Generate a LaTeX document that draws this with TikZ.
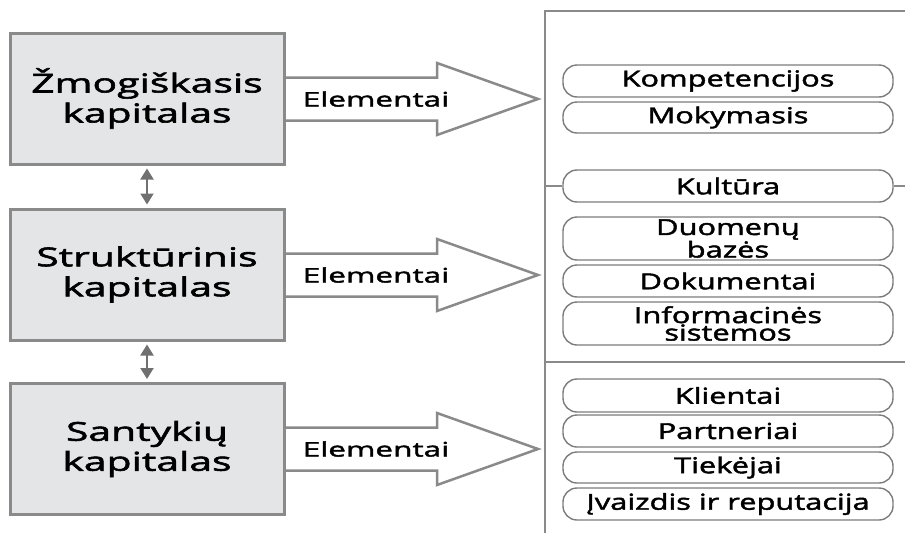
\documentclass[tikz,border=0pt]{standalone}
\usepackage{fontspec}
\setmainfont{Open Sans}
\newfontfamily\capfont{Open Sans}[FakeStretch=1.57, FakeBold=2.2]
\newfontfamily\pillfont{Open Sans}[FakeStretch=1.40, FakeBold=2.0]
\newfontfamily\lblfont{Open Sans}[FakeStretch=1.58, FakeBold=2.0]
\usetikzlibrary{arrows.meta,calc}
\definecolor{boxfill}{HTML}{E4E5E7}
\definecolor{boxline}{HTML}{8A8A8A}
\definecolor{pillline}{HTML}{7C7C7C}
\definecolor{linkgray}{HTML}{707070}
\tikzset{
  capbox/.style={draw=boxline, line width=3pt, fill=boxfill, minimum width=274pt,
    minimum height=131pt, align=center, font=\capfont\fontsize{26}{30}\selectfont, inner sep=0pt},
  pill/.style={draw=pillline, line width=1.4pt, rounded corners=14pt, fill=white,
    minimum width=330pt, align=center, inner sep=0pt, font=\pillfont\fontsize{22}{17.5}\selectfont},
  bigarrow/.style={draw=boxline, line width=2.5pt, fill=white, line join=miter},
  panel/.style={draw=boxline, line width=2.5pt},
  link/.style={linkgray, line width=2pt, {Triangle[width=13pt,length=11pt]}-{Triangle[width=13pt,length=11pt]}, shorten <=3pt, shorten >=3pt},
  lbl/.style={font=\lblfont\fontsize{20}{20}\selectfont, inner sep=0pt}
}
\begin{document}
\begin{tikzpicture}[x=1pt,y=-1pt]
\useasboundingbox (0,0) rectangle (905,533);

% panel frame on the right
\coordinate (ptop) at (545,11);
\coordinate (pbot) at (545,533);
\draw[panel] (905,11) -- (ptop) -- (pbot);
\draw[panel] (545,362) -- (905,362);

% broad arrows from each kind of capital towards the panel
\foreach \cy in {99,275,449}{
  \draw[bigarrow] (270,\cy-21.5) -- (437,\cy-21.5) -- (437,\cy-36) -- (538,\cy)
    -- (437,\cy+36) -- (437,\cy+21.5) -- (270,\cy+21.5);
  \node[lbl] at (376,\cy) {Elementai};
}

% the three kinds of capital
\node[capbox] (h) at (147,98.5) {Žmogiškasis\\kapitalas};
\node[capbox] (s) at (147,274.5) {Struktūrinis\\kapitalas};
\node[capbox] (r) at (147,449) {Santykių\\kapitalas};
\draw[link] (h.south) -- (s.north);
\draw[link] (s.south) -- (r.north);

% elements
\node[pill, minimum height=32pt] (p1) at (728,81) {Kompetencijos};
\node[pill, minimum height=31pt] (p2) at (728,117.5) {Mokymasis};
\node[pill, minimum height=32pt] (p3) at (728,186) {Kultūra};
\node[pill, minimum height=43pt] (p4) at (728,238.5) {Duomenų\\bazės};
\node[pill, minimum height=32pt] (p5) at (728,281) {Dokumentai};
\node[pill, minimum height=43pt] (p6) at (728,323.5) {Informacinės\\sistemos};
\node[pill, minimum height=33pt] (p7) at (728,395.5) {Klientai};
\node[pill, minimum height=32pt] (p8) at (728,431) {Partneriai};
\node[pill, minimum height=31pt] (p9) at (728,467.5) {Tiekėjai};
\node[pill, minimum height=32pt] (p10) at (728,504) {Įvaizdis ir reputacija};

% divider through the culture element
\draw[panel] (545,186) -- (p3.west);
\draw[panel] (p3.east) -- (905,186);
\end{tikzpicture}
\end{document}
